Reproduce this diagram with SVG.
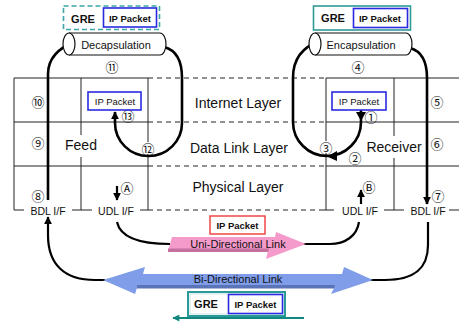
<svg xmlns="http://www.w3.org/2000/svg" width="459" height="323" viewBox="0 0 459 323">
<defs>
<style>
.grid{stroke:#222;stroke-width:1;fill:none}
.dash{stroke:#222;stroke-width:1;stroke-dasharray:5 4;fill:none}
.loop{stroke:#000;stroke-width:2.6;fill:none}
.wire{stroke:#000;stroke-width:2.2;fill:none}
.t{font-family:"Liberation Sans",Arial,sans-serif;fill:#111;text-anchor:middle;dominant-baseline:central}
.layer{font-size:14px}
.cyl{font-size:11px}
.ifc{font-size:10.5px}
.pkt{font-size:9.5px}
.bold{font-weight:bold}
.num{font-family:"Noto Sans CJK JP","DejaVu Sans",sans-serif;font-size:13px;fill:#111;text-anchor:middle;dominant-baseline:central}
.bluebox{fill:#fff;stroke:#2a2ae0;stroke-width:1.6}
.tube{fill:#fff;stroke:#111;stroke-width:1.2}
</style>
<marker id="arr" viewBox="0 0 10 10" refX="9" refY="5" markerWidth="8" markerHeight="8" markerUnits="userSpaceOnUse" orient="auto">
<path d="M0,0 L10,5 L0,10 z" fill="#000"/>
</marker>
<marker id="tealArr" viewBox="0 0 10 10" refX="9" refY="5" markerWidth="8" markerHeight="7" markerUnits="userSpaceOnUse" orient="auto">
<path d="M0,0 L10,5 L0,10 z" fill="#11877f"/>
</marker>
</defs>
<rect width="459" height="323" fill="#fff"/>

<!-- protocol stack grid -->
<g id="grid">
<path class="grid" d="M14,78 H148 M14,122 H148 M14,166 H148 M14,78 V210 H24 M148,78 V210 H140 M81,78 V135 M81,157 V210 M72,210 H92"/>
<path class="grid" d="M326,78 H459 M326,122 H459 M326,166 H459 M326,78 V210 M320,210 H334 M394,78 V136 M394,158 V210 M384,210 H404 M449,210 H459"/>
<path class="dash" d="M148,78 H326 M148,122 H326 M148,166 H326 M148,210 H320"/>
</g>

<g id="layers">
<text class="t layer" x="238" y="103">Internet Layer</text>
<text class="t layer" x="239" y="148">Data Link Layer</text>
<text class="t layer" x="238" y="187">Physical Layer</text>
</g>

<g id="feed">
<text class="t layer" x="81" y="145">Feed</text>
<text class="t ifc" x="48" y="211">BDL I/F</text>
<text class="t ifc" x="116" y="211">UDL I/F</text>
</g>

<g id="receiver">
<text class="t layer" x="394" y="147">Receiver</text>
<text class="t ifc" x="360" y="211">UDL I/F</text>
<text class="t ifc" x="428" y="211">BDL I/F</text>
</g>

<!-- connectors -->
<g id="connectors">
<path class="loop" d="M48,200 V74 C48,58 58,48 76,41"/>
<path class="loop" d="M164,47 C176,50 182,60 182,78 V123 A33.5,33 0 0 1 115,123 V112" marker-end="url(#arr)"/>
<path class="loop" d="M361,110 V122 A34,34 0 0 1 293,122 V78 C293,60 302,47 320,41"/>
<path class="loop" d="M410,48 C421,51 427,60 427,78 V204" marker-end="url(#arr)"/>
<path d="M356,112 L366,112 L361,121 z" fill="#000"/>
<path d="M337,151 L337,161 L327,156.5 z" fill="#000"/>
<path class="wire" d="M117,186 V200" marker-end="url(#arr)"/>
<path class="wire" d="M361,204 V190" marker-end="url(#arr)"/>
<path class="wire" d="M117,222 C120,236 135,244 170,244"/>
<path class="wire" d="M303,244 H330 C345,244 357,236 359,222"/>
<path class="wire" d="M105,280 H95 C65,280 48,265 48,235 V217" marker-end="url(#arr)"/>
<path class="wire" d="M370,280 H385 C415,280 428,268 428,245 V222"/>
<path d="M304,318 H173" stroke="#11877f" stroke-width="2.2" fill="none" marker-end="url(#tealArr)"/>
</g>

<!-- circled step numbers -->
<g id="steps">
<circle cx="148" cy="148" r="6" fill="#fff"/>
<circle cx="326" cy="147" r="6" fill="#fff"/>
<text class="num" x="112" y="66">⑪</text>
<text class="num" x="38" y="101">⑩</text>
<text class="num" x="128" y="115">⑬</text>
<text class="num" x="38" y="142">⑨</text>
<text class="num" x="148" y="148">⑫</text>
<text class="num" x="38" y="195">⑧</text>
<text class="num" x="127" y="187">Ⓐ</text>
<text class="num" x="358" y="66">④</text>
<text class="num" x="437" y="101">⑤</text>
<text class="num" x="371" y="116">①</text>
<text class="num" x="326" y="147">③</text>
<text class="num" x="355" y="157">②</text>
<text class="num" x="437" y="143">⑥</text>
<text class="num" x="438" y="195">⑦</text>
<text class="num" x="369" y="186">Ⓑ</text>
</g>

<g id="decapsulation">
<path class="tube" d="M69,33 H160 A6,11 0 0 1 160,55 H69"/>
<ellipse class="tube" cx="69" cy="44" rx="6" ry="11"/>
<text class="t cyl" x="116" y="45">Decapsulation</text>
</g>

<g id="encapsulation">
<path class="tube" d="M315,33 H406 A6,11 0 0 1 406,55 H315"/>
<ellipse class="tube" cx="315" cy="44" rx="6" ry="11"/>
<text class="t cyl" x="361" y="45">Encapsulation</text>
</g>

<g id="gre-feed">
<rect x="63.5" y="6" width="96" height="23.5" fill="#fff" stroke="#3ea6a6" stroke-width="1.6" stroke-dasharray="5 3"/>
<text class="t bold" x="83" y="18.5" font-size="11px">GRE</text>
<rect class="bluebox" x="103.5" y="8" width="53" height="19"/>
<text class="t pkt bold" x="130" y="18">IP Packet</text>
</g>

<g id="gre-receiver">
<rect x="313.5" y="6" width="97" height="24" fill="#fff" stroke="#2e9a96" stroke-width="1.6"/>
<text class="t bold" x="333" y="18" font-size="11px">GRE</text>
<rect class="bluebox" x="353.5" y="8.5" width="54" height="19"/>
<text class="t pkt bold" x="380" y="18.5">IP Packet</text>
</g>

<g id="ip-packet-feed">
<rect class="bluebox" x="88" y="92" width="53" height="18"/>
<text class="t pkt" x="115" y="101">IP Packet</text>
</g>

<g id="ip-packet-receiver">
<rect class="bluebox" x="332" y="92" width="54" height="18"/>
<text class="t pkt" x="359" y="101">IP Packet</text>
</g>

<g id="udl-packet">
<rect x="210" y="216" width="55" height="18" fill="#fff" stroke="#f03a3a" stroke-width="1.4"/>
<text class="t pkt bold" x="237.5" y="225">IP Packet</text>
</g>

<g id="uni-directional-link">
<path d="M172,237 H275 L276,232 L306,244 L266,259 L268,251 H168 z" fill="#f59bcb"/>
<path d="M168,248.5 H269 L268,252 H168 z" fill="#c6709f"/>
<text class="t" x="238" y="243.5" font-size="11px">Uni-Directional Link</text>
</g>

<g id="bi-directional-link">
<path d="M103,280 L145,267 L143,274 H342 L344,267 L373,280 L331,294 L334,288 H137 L135,294 z" fill="#7f9de8"/>
<path d="M137,285 H335 L334,288.5 H137 z" fill="#5b74b8"/>
<text class="t" x="238" y="279" font-size="11px">Bi-Directional Link</text>
</g>

<g id="gre-link">
<rect x="188" y="292" width="97" height="24" fill="#fff" stroke="#2a9a98" stroke-width="2"/>
<rect x="190" y="294" width="93" height="20" fill="none" stroke="#9fd2d0" stroke-width="0.6"/>
<text class="t bold" x="206" y="303.5" font-size="11px">GRE</text>
<rect class="bluebox" x="228.5" y="294.5" width="54" height="19"/>
<text class="t pkt bold" x="255.5" y="304">IP Packet</text>
</g>
</svg>
